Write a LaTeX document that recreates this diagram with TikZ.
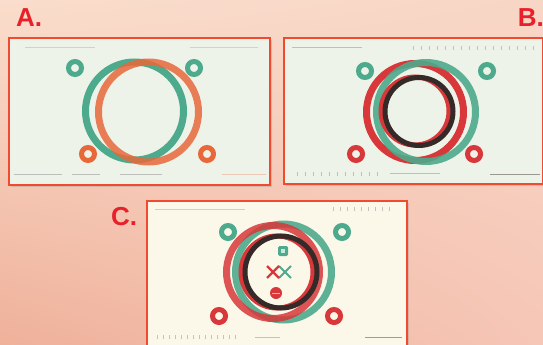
\documentclass[tikz,border=0pt]{standalone}
\usepackage{fontspec}
\setmainfont{Liberation Sans}
\usetikzlibrary{shadows,shadings}
\definecolor{bgA}{HTML}{FADDCC}
\definecolor{bgB}{HTML}{F8D6C6}
\definecolor{bgC}{HTML}{EFB19A}
\definecolor{bgD}{HTML}{F6C6B6}
\definecolor{teal}{HTML}{4DAA8C}
\definecolor{orng}{HTML}{E8683A}
\definecolor{rred}{HTML}{D8383A}
\definecolor{dark}{HTML}{352A28}
\definecolor{frame}{HTML}{F04A30}
\definecolor{lab}{HTML}{E8202A}
\definecolor{panelA}{HTML}{EEF3EA}
\definecolor{panelC}{HTML}{FBF8EA}
\tikzset{
  panel/.style={draw=frame, line width=1.2pt, drop shadow={opacity=0.25, shadow xshift=2pt, shadow yshift=-2pt}},
  ring/.style={draw=#1, line width=7pt},
  smallring/.style={draw=#1, line width=5pt},
  thinring/.style={draw=#1, line width=5pt},
  lbl/.style={text=lab, font=\bfseries\fontsize{26}{26}\selectfont, inner sep=0pt},
  faint/.style={draw=#1, line width=1pt, opacity=0.45}
}
\begin{document}
\begin{tikzpicture}[x=1pt,y=-1pt]
\useasboundingbox (0,0) rectangle (543,345);
\shade[upper left=bgA, upper right=bgB, lower left=bgC, lower right=bgD] (0,0) rectangle (543,345);

% ---------- Panel A ----------
\node[lbl, anchor=base west] (labA) at (16,27) {A.};
\path[panel, fill=panelA] (9,38) rectangle (270,185);
\draw[faint=olive!60] (25,48) -- (95,48);
\draw[faint=olive!60] (190,48) -- (258,48);
\draw[faint=gray] (14,174) -- (62,174);
\draw[faint=gray] (72,174) -- (100,174);
\draw[faint=gray] (120,174) -- (162,174);
\draw[faint=orng!70] (222,174) -- (266,174);
\draw[ring=teal] (134.5,111) circle (49);
\draw[ring=orng, opacity=0.85] (148.5,112) circle (50);
\draw[smallring=teal] (75,68) circle (6.5);
\draw[smallring=teal] (194,68) circle (6.5);
\draw[smallring=orng] (88,154) circle (6.5);
\draw[smallring=orng] (207,154) circle (6.5);

% ---------- Panel B ----------
\node[lbl, anchor=base east] (labB) at (544,27) {B.};
\path[panel, fill=panelA] (284,38) rectangle (543,184);
\draw[faint=gray] (292,48) -- (362,48);
\foreach \i in {0,...,15} \draw[faint=gray] (413+\i*8,46) -- (413+\i*8,50);
\foreach \i in {0,...,10} \draw[faint=gray] (297+\i*8,172) -- (297+\i*8,176);
\draw[faint=gray] (390,173) -- (440,173);
\draw[faint=dark] (490,174) -- (540,174);
\draw[ring=rred] (415,112) circle (48.5);
\draw[ring=teal, opacity=0.9] (426,112) circle (49.5);
\draw[thinring=rred] (415,111) circle (34);
\draw[thinring=dark] (419,111.5) circle (34);
\draw[smallring=teal] (365,71) circle (6.5);
\draw[smallring=teal] (487,71) circle (6.5);
\draw[smallring=rred] (356,154) circle (6.5);
\draw[smallring=rred] (474,154) circle (6.5);

% ---------- Panel C ----------
\node[lbl, anchor=base west] (labC) at (111,225) {C.};
\path[panel, fill=panelC] (147,201) rectangle (407,352);
\draw[faint=olive!70] (155,209) -- (245,209);
\foreach \i in {0,...,8} \draw[faint=gray] (333+\i*7,207) -- (333+\i*7,211);
\foreach \i in {0,...,13} \draw[faint=gray] (157+\i*6,335) -- (157+\i*6,339);
\draw[faint=gray] (255,337) -- (280,337);
\draw[faint=dark] (365,337) -- (402,337);
\draw[ring=teal, opacity=0.9] (283.5,272) circle (48);
\draw[ring=rred, opacity=0.85] (273,272) circle (46.5);
\draw[thinring=rred] (277,272) circle (36);
\draw[thinring=dark] (281,272) circle (36);
\draw[smallring=teal] (228,232) circle (6.5);
\draw[smallring=teal] (342,232) circle (6.5);
\draw[smallring=rred] (219,316) circle (6.5);
\draw[smallring=rred] (334,316) circle (6.5);
\node[fill=teal, rounded corners=1.5pt, minimum size=10pt, inner sep=0pt] (sq) at (283,251) {};
\node[fill=white, minimum size=4pt, inner sep=0pt, opacity=0.7] (sqin) at (283,251) {};
\draw[teal, line width=2pt] (279,266) -- (291,278) (291,266) -- (279,278);
\draw[rred, line width=2.4pt] (267,266) -- (279,278) (279,266) -- (267,278);
\node[circle, fill=rred, minimum size=12pt, inner sep=0pt] (dot) at (276,293) {};
\draw[white, line width=0.8pt, opacity=0.6] (272,293) -- (280,293);
\end{tikzpicture}
\end{document}
